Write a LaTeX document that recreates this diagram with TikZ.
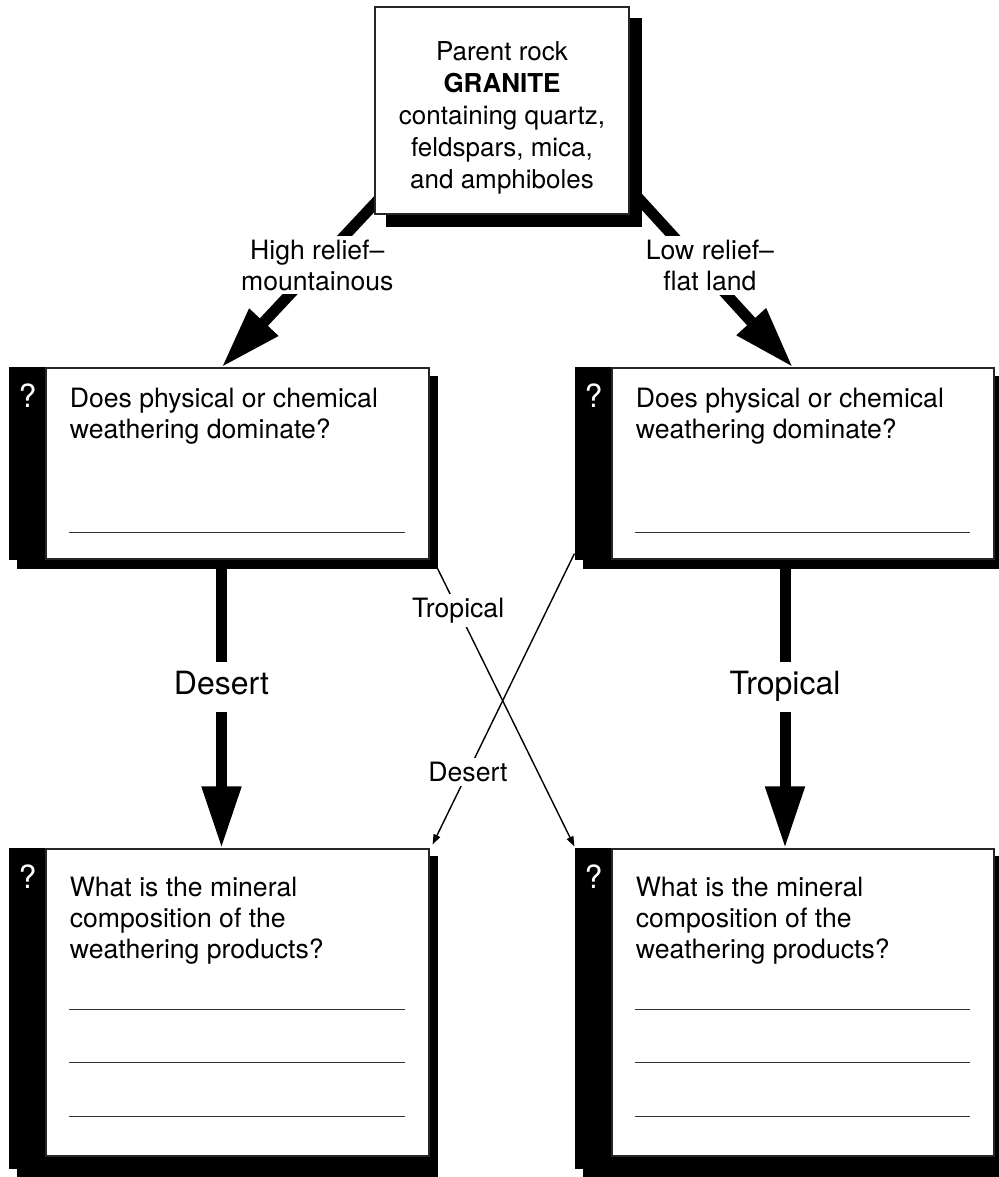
\documentclass[tikz,border=0pt]{standalone}
\usepackage{fontspec}
\setmainfont{TeX Gyre Heros}
\usetikzlibrary{arrows.meta,positioning,backgrounds}

\tikzset{
  box/.style={draw=black!85, line width=0.6pt, fill=white, inner sep=0pt},
  body/.style={font=\fontsize{13.3}{15.5}\selectfont},
  qtext/.style={body, align=left, inner sep=0pt},
  qmark/.style={text=white, font=\fontsize{16}{18}\selectfont, inner sep=0pt},
  rule/.style={draw=black!80, line width=0.6pt},
  bigarrow/.style={line width=5.5pt, -{Triangle[length=31pt,width=18.5pt]}},
  thinarrow/.style={line width=0.7pt, -{Triangle[length=5pt,width=3.6pt]}},
  gap/.style={fill=white, inner sep=2pt, align=center},
  biglabel/.style={fill=white, font=\fontsize{16}{18}\selectfont, inner xsep=3pt, inner ysep=5pt, text height=11.5pt, text depth=3.5pt},
}

\begin{document}
\begin{tikzpicture}[x=0.5pt, y=-0.5pt]
\useasboundingbox (0,0) rectangle (999,1177);

% Parent rock
\node[box, minimum width=127pt, minimum height=103.5pt] (rock) at (502,110.5) {};
\node[font=\fontsize{13}{16}\selectfont, align=center] (rocktext) at ([yshift=-3.5pt]rock.center)
  {Parent rock\\\textbf{GRANITE}\\containing quartz,\\feldspars, mica,\\and amphiboles};

% Question boxes
\node[box, minimum width=191.5pt, minimum height=95.5pt] (physL) at (237.5,463.5) {};
\node[box, minimum width=191pt, minimum height=95.5pt] (physR) at (803,463.5) {};
\node[box, minimum width=191.5pt, minimum height=153.5pt] (minL) at (237.5,1002.5) {};
\node[box, minimum width=191pt, minimum height=153.5pt] (minR) at (803,1002.5) {};

% Question marks
\foreach \b in {physL,physR,minL,minR}
  \node[qmark] at ([shift={(-18,28)}]\b.north west) {?};

% Questions
\node[qtext, below right=10pt and 12pt of physL.north west] (physLq) {Does physical or chemical\\weathering dominate?};
\node[qtext, below right=10pt and 12pt of physR.north west] (physRq) {Does physical or chemical\\weathering dominate?};
\node[qtext, below right=14pt and 12pt of minL.north west] (minLq) {What is the mineral\\composition of the\\weathering products?};
\node[qtext, below right=14pt and 12pt of minR.north west] (minRq) {What is the mineral\\composition of the\\weathering products?};

% Answer lines
\foreach \b in {physL,physR}
  \draw[rule] ([shift={(24,-27)}]\b.south west) -- ([shift={(-25,-27)}]\b.south east);
\foreach \b in {minL,minR}
  \foreach \h in {147,94,40}
    \draw[rule] ([shift={(24,-\h)}]\b.south west) -- ([shift={(-25,-\h)}]\b.south east);

\begin{scope}[on background layer]
  % Shadows and side bars
  \fill ([shift={(12,12)}]rock.north west) rectangle ([shift={(12,12)}]rock.south east);
  \foreach \b in {physL,physR} {
    \fill ([shift={(-28,9)}]\b.north west) rectangle ([shift={(8,9)}]\b.south east);
    \fill ([shift={(-36,0)}]\b.north west) rectangle (\b.south east);
  }
  \foreach \b in {minL,minR} {
    \fill ([shift={(-28,8)}]\b.north west) rectangle ([shift={(8,20)}]\b.south east);
    \fill ([shift={(-36,0)}]\b.north west) rectangle ([shift={(0,12)}]\b.south east);
  }

  % Relief arrows
  \draw[bigarrow] ([shift={(20,-32)}]rock.south west) -- node[gap, body, pos=0.446] {High relief--\\mountainous} ([shift={(-16,0)}]physL.north);
  \draw[bigarrow] ([shift={(-9,-36)}]rock.south east) -- node[gap, body, pos=0.46, xshift=5pt] {Low relief--\\flat land} ([shift={(-10,0)}]physR.north);

  % Climate arrows
  \draw[bigarrow] ([shift={(-16,0)}]physL.south) -- node[biglabel, pos=0.44] {Desert} ([shift={(-16,0)}]minL.north);
  \draw[bigarrow] ([shift={(-18,0)}]physR.south) -- node[biglabel, pos=0.44] {Tropical} ([shift={(-18,0)}]minR.north);
\end{scope}

% Crossing arrows
\draw[thinarrow] ([shift={(8,9)}]physL.south east) -- node[gap, body, pos=0.15] {Tropical} ([shift={(-37,-2)}]minR.north west);
\draw[thinarrow] ([shift={(-37,-6)}]physR.south west) -- node[gap, body, pos=0.75] {Desert} ([shift={(3,-4)}]minL.north east);
\end{tikzpicture}
\end{document}
